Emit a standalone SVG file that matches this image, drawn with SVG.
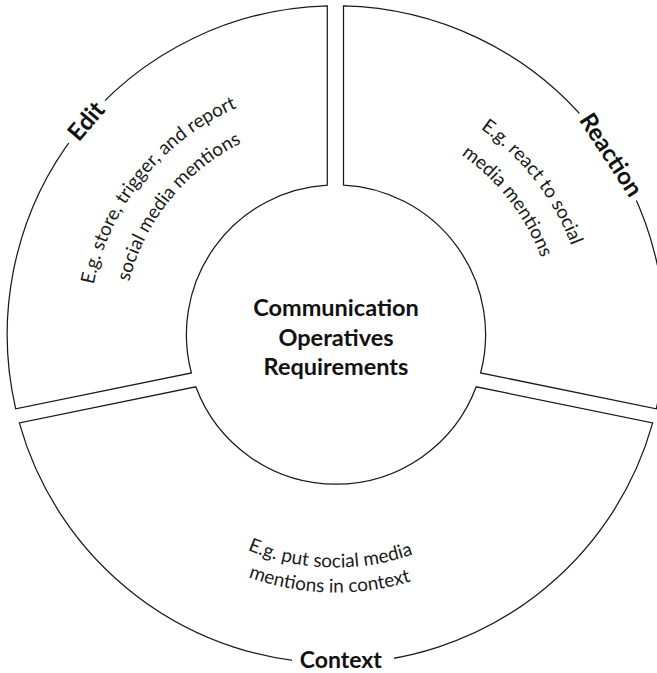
<svg xmlns="http://www.w3.org/2000/svg" xmlns:xlink="http://www.w3.org/1999/xlink" width="657" height="673" viewBox="0 0 657 673">
  <style>
    .seg { fill: #ffffff; stroke: #1a1a1a; stroke-width: 1.25; }
    .lbl { font-family: Lato, "Open Sans", "Liberation Sans", sans-serif; font-weight: bold; font-size: 24px; fill: #111; text-anchor: middle; }
    .desc { font-family: Lato, "Open Sans", "Liberation Sans", sans-serif; font-size: 19px; fill: #1a1a1a; }
    .ctr { font-family: Lato, "Open Sans", "Liberation Sans", sans-serif; font-weight: bold; font-size: 23.5px; fill: #111; text-anchor: middle; }
    .bg { fill: #ffffff; stroke: none; }
  </style>
  <defs>
    <path id="editL1" d="M123.85,461.97 A247.5,247.5 0 0 1 416.58,100.48"/>
    <path id="editL2" d="M152.99,444.46 A213.5,213.5 0 0 1 405.51,132.63"/>
    <path id="reacL1" d="M259.12,95.04 A251.5,251.5 0 0 1 548.82,468.52"/>
    <path id="reacL2" d="M269.05,125.98 A219,219 0 0 1 521.32,451.20"/>
    <path id="ctxL1" d="M115.04,408.43 A233,233 0 0 0 552.79,419.89"/>
    <path id="ctxL2" d="M91.33,416.36 A258,258 0 0 0 576.05,429.06"/>
  </defs>
  <rect width="657" height="673" fill="#ffffff"/>
  <g id="connectors"/>
  <g id="edit">
    <path class="seg" d="M327.3,5.8 A328.8,328.8 0 0 0 15.7,408.8 L191.4,372.9 A149.6,149.6 0 0 1 327.3,185.15 Z"/>
    <g transform="translate(85.98,120.96) rotate(-49.5)">
      <rect class="bg" x="-28" y="-17" width="56" height="34"/>
      <text class="lbl" x="0" y="8.5">Edit</text>
    </g>
    <text class="desc"><textPath xlink:href="#editL1" href="#editL1" startOffset="50%" text-anchor="middle">E.g. store, trigger, and report</textPath></text>
    <text class="desc"><textPath xlink:href="#editL2" href="#editL2" startOffset="50%" text-anchor="middle">social media mentions</textPath></text>
  </g>
  <g id="reaction">
    <path class="seg" d="M343.5,5.8 A328.8,328.8 0 0 1 656.3,408.8 L480.6,372.9 A149.6,149.6 0 0 0 343.5,185.1 Z"/>
    <g transform="translate(611.28,154.7) rotate(56.85)">
      <rect class="bg" x="-52" y="-17" width="104" height="34"/>
      <text class="lbl" x="0" y="8.5">Reaction</text>
    </g>
    <text class="desc"><textPath xlink:href="#reacL1" href="#reacL1" startOffset="50%" text-anchor="middle">E.g. react to social</textPath></text>
    <text class="desc"><textPath xlink:href="#reacL2" href="#reacL2" startOffset="50%" text-anchor="middle">media mentions</textPath></text>
  </g>
  <g id="context">
    <path class="seg" d="M19.3,422.9 A328.8,328.8 0 0 0 652.7,422.9 L476.2,386.8 A149.6,149.6 0 0 1 195.8,386.8 Z"/>
    <rect class="bg" x="292" y="645" width="102" height="28"/>
    <text class="lbl" x="340.8" y="668" style="font-size:23px">Context</text>
    <text class="desc"><textPath xlink:href="#ctxL1" href="#ctxL1" startOffset="50%" text-anchor="middle">E.g. put social media</textPath></text>
    <text class="desc"><textPath xlink:href="#ctxL2" href="#ctxL2" startOffset="50%" text-anchor="middle">mentions in context</textPath></text>
  </g>
  <g id="center">
    <text class="ctr" x="336" y="316">Communication</text>
    <text class="ctr" x="336" y="346">Operatives</text>
    <text class="ctr" x="336" y="375">Requirements</text>
  </g>
</svg>
